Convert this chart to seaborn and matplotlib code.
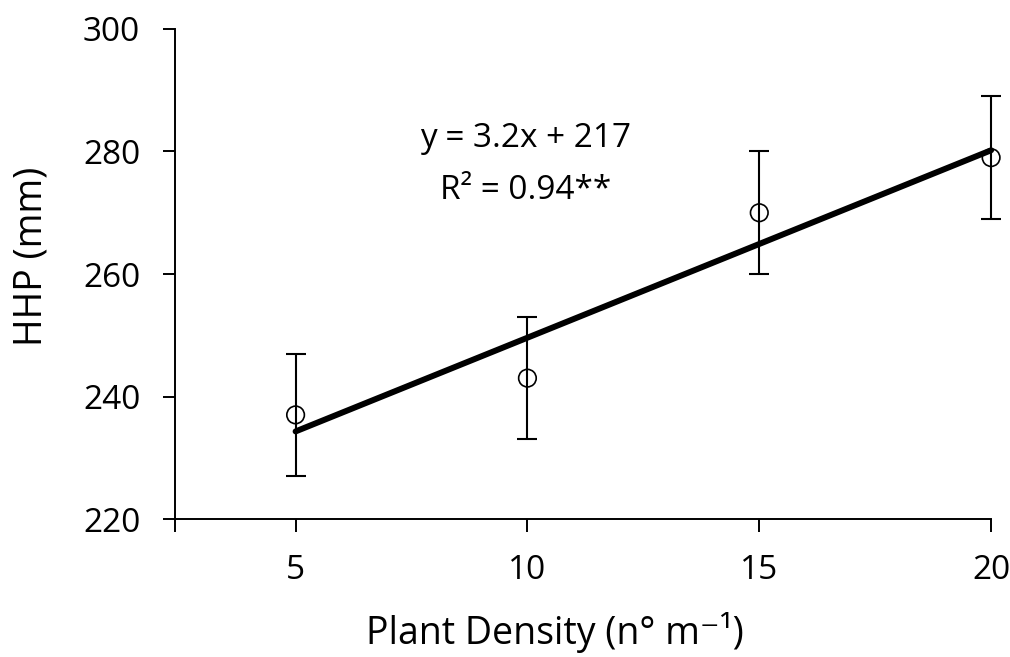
import numpy as np
import pandas as pd
import matplotlib
matplotlib.use('Agg')
import matplotlib.pyplot as plt
import seaborn as sns

# dados
densidade = [5, 10, 15, 20]
hhp = [237, 243, 270, 279]
erro = [10, 10, 10, 10]
xticks = [5, 10, 15, 20]
yticks = [220, 240, 260, 280, 300]
equacao = 'y = 3.2x + 217'
r2_texto = 'R² = 0.94**'

df = pd.DataFrame({'densidade': densidade, 'hhp': hhp, 'erro': erro})

sns.set_style('ticks')
plt.rcParams['font.family'] = ['Open Sans', 'DejaVu Sans']
plt.rcParams['text.color'] = 'black'
plt.rcParams['axes.labelcolor'] = 'black'
plt.rcParams['xtick.color'] = 'black'
plt.rcParams['ytick.color'] = 'black'

fig = plt.figure(figsize=(10.10, 6.57), dpi=100)
ax = fig.add_axes([0.1733, 0.21, 0.808, 0.7459])

# linha de regressão
sns.regplot(data=df, x='densidade', y='hhp', ci=None, scatter=False, truncate=True,
            color='black', line_kws={'linewidth': 4.3, 'solid_capstyle': 'round'}, ax=ax)

# barras de erro e pontos
ax.errorbar(df['densidade'], df['hhp'], yerr=df['erro'], fmt='none', ecolor='black',
            elinewidth=1.5, capsize=7, capthick=1.5, zorder=3, clip_on=False)
sns.scatterplot(data=df, x='densidade', y='hhp', marker='o', s=160, facecolor='none',
                edgecolor='black', linewidth=1.2, zorder=4, clip_on=False, ax=ax)
for ln in ax.lines:
    ln.set_clip_on(False)

ax.set_xlim(2.4, 20)
ax.set_ylim(220, 300)
ax.set_xticks(xticks)
ax.set_xticks([2.4], minor=True)
ax.set_yticks(yticks)
ax.tick_params(axis='both', which='both', direction='out', length=9, width=1.4,
               colors='black', labelsize=24, pad=16)
for s in ['left', 'bottom']:
    ax.spines[s].set_linewidth(1.4)
    ax.spines[s].set_color('black')
sns.despine(ax=ax)

ax.set_xlabel('Plant Density (n° m⁻¹)', fontsize=27)
ax.set_ylabel('HHP (mm)', fontsize=27)
ax.xaxis.set_label_coords(0.466, -0.19)
ax.yaxis.set_label_coords(-0.152, 0.535)

ax.text(0.429, 0.776, equacao, transform=ax.transAxes, ha='center', va='center', fontsize=24)
ax.text(0.429, 0.670, r2_texto, transform=ax.transAxes, ha='center', va='center', fontsize=24)

fig.savefig('out.png', dpi=100)
